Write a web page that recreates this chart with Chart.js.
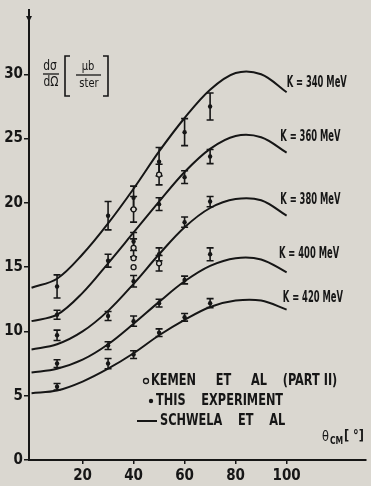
<!DOCTYPE html>
<html>
<head>
<meta charset="utf-8">
<script src="https://cdn.jsdelivr.net/npm/chart.js@4.4.1/dist/chart.umd.min.js"></script>
<style>
  html, body { margin: 0; padding: 0; background: #dad7d0; }
  #wrap { width: 371px; height: 486px; }
</style>
</head>
<body>
<div id="wrap"><canvas id="chart" width="371" height="486"></canvas></div>
<script>
// --- values ---
const energies = [340, 360, 380, 400, 420];
const theoryAngles = [0, 10, 20, 30, 40, 50, 60, 70, 80, 90, 100];
const theory340 = [13.4, 14.1, 16.0, 18.4, 21.1, 24.0, 26.6, 28.8, 30.1, 30.0, 28.6];
const theory360 = [10.8, 11.3, 13.0, 15.3, 17.7, 20.1, 22.4, 24.2, 25.2, 25.1, 23.9];
const theory380 = [8.6, 9.0, 10.0, 11.6, 13.7, 16.0, 18.1, 19.6, 20.3, 20.2, 19.0];
const theory400 = [6.8, 7.1, 7.8, 9.0, 10.6, 12.3, 13.9, 15.1, 15.7, 15.6, 14.6];
const theory420 = [5.2, 5.4, 6.1, 7.1, 8.3, 9.7, 10.9, 11.9, 12.4, 12.4, 11.7];

const expAngles = [10, 30, 40, 50, 60, 70];
const exp340 = [13.5, 19.0, 20.4, 23.2, 25.5, 27.5];
const err340 = [0.9, 1.1, 0.9, 1.1, 1.05, 1.05];
const exp360 = [11.3, 15.5, 17.0, 19.9, 22.0, 23.6];
const err360 = [0.35, 0.5, 0.7, 0.5, 0.5, 0.55];
const exp380 = [9.7, 11.2, 13.9, 16.0, 18.5, 20.1];
const err380 = [0.4, 0.35, 0.45, 0.5, 0.4, 0.4];
const exp400 = [7.5, 8.9, 10.8, 12.2, 14.0, 16.0];
const err400 = [0.3, 0.3, 0.4, 0.3, 0.3, 0.5];
const exp420 = [5.7, 7.5, 8.2, 9.9, 11.1, 12.2];
const err420 = [0.25, 0.4, 0.3, 0.3, 0.3, 0.35];

const kemenAngles = [40, 40, 40, 40, 50, 50];
const kemenValues = [19.5, 16.5, 15.7, 15.0, 22.2, 15.3];
const kemenErrors = [1.0, 0.7, 0, 0, 0.8, 0.6];

const xTicks = [20, 40, 60, 80, 100];
const yTicks = [0, 5, 10, 15, 20, 25, 30];

// --- look ---
const INK = '#161616';
const BG = '#dad7d0';
const FONT = "'Liberation Sans Narrow', 'DejaVu Sans Condensed', 'Arial Narrow', sans-serif";
// where the "K = ... MeV" labels sit, in axis units
const curveLabelAt = [[100, 29.3], [97.5, 25.1], [97.5, 20.2], [97, 16.0], [98.5, 12.6]];

const theory = [theory340, theory360, theory380, theory400, theory420];
const exps = [exp340, exp360, exp380, exp400, exp420];
const errs = [err340, err360, err380, err400, err420];

const pairs = (xs, ys) => xs.map((x, i) => ({ x, y: ys[i] }));

function narrowText(ctx, text, x, y, size, align = 'left', squeeze = 0.8, weight = 'bold') {
    ctx.save();
    ctx.font = `${weight} ${size}px ${FONT}`;
    ctx.fillStyle = INK;
    ctx.textBaseline = 'middle';
    ctx.textAlign = align;
    ctx.translate(x, y);
    ctx.scale(squeeze, 1);
    ctx.fillText(text, 0, 0);
    ctx.restore();
}

const errorBars = {
    id: 'errorBars',
    beforeDatasetsDraw(chart) {
        const { ctx, scales: { x, y } } = chart;
        ctx.save();
        ctx.strokeStyle = INK;
        ctx.lineWidth = 1.6;
        chart.data.datasets.forEach(ds => {
            if (!ds.errors) return;
            ds.data.forEach((p, i) => {
                const e = ds.errors[i];
                if (!e) return;
                const px = x.getPixelForValue(p.x);
                const top = y.getPixelForValue(p.y + e);
                const bot = y.getPixelForValue(p.y - e);
                ctx.beginPath();
                ctx.moveTo(px, top); ctx.lineTo(px, bot);
                ctx.moveTo(px - 3.5, top); ctx.lineTo(px + 3.5, top);
                ctx.moveTo(px - 3.5, bot); ctx.lineTo(px + 3.5, bot);
                ctx.stroke();
            });
        });
        ctx.restore();
    }
};

const annotations = {
    id: 'annotations',
    afterDraw(chart) {
        const { ctx, scales: { x, y }, chartArea } = chart;
        ctx.save();

        // arrow mark at the top of the y axis
        const ax = chartArea.left;
        ctx.fillStyle = INK;
        ctx.beginPath();
        ctx.moveTo(ax - 3, 16); ctx.lineTo(ax + 3, 16); ctx.lineTo(ax, 22);
        ctx.closePath(); ctx.fill();

        // curve labels
        energies.forEach((k, i) => {
            const [lx, ly] = curveLabelAt[i];
            narrowText(ctx, `K = ${k} MeV`, x.getPixelForValue(lx), y.getPixelForValue(ly), 15, 'left', 0.62);
        });

        // y axis title: dσ/dΩ [μb/ster]
        ctx.strokeStyle = INK;
        ctx.lineWidth = 1.3;
        narrowText(ctx, 'dσ', 50, 66, 14, 'center', 0.85, 'normal');
        narrowText(ctx, 'dΩ', 51, 82, 14, 'center', 0.85, 'normal');
        ctx.beginPath(); ctx.moveTo(43, 74); ctx.lineTo(59, 74); ctx.stroke();
        narrowText(ctx, 'μb', 88, 67, 13, 'center', 0.85, 'normal');
        narrowText(ctx, 'ster', 89, 84, 13, 'center', 0.85, 'normal');
        ctx.beginPath(); ctx.moveTo(76, 75); ctx.lineTo(101, 75); ctx.stroke();
        ctx.lineWidth = 1.6;
        ctx.beginPath();
        ctx.moveTo(70, 56); ctx.lineTo(65, 56); ctx.lineTo(65, 96); ctx.lineTo(70, 96);
        ctx.moveTo(103, 56); ctx.lineTo(108, 56); ctx.lineTo(108, 96); ctx.lineTo(103, 96);
        ctx.stroke();

        // legend
        ctx.lineWidth = 1.3;
        ctx.beginPath(); ctx.arc(146, 381, 2.5, 0, Math.PI * 2); ctx.stroke();
        narrowText(ctx, 'KEMEN     ET     AL    (PART II)', 151, 381, 15, 'left', 0.84);
        ctx.beginPath(); ctx.arc(151, 401, 2.2, 0, Math.PI * 2); ctx.fill();
        narrowText(ctx, 'THIS    EXPERIMENT', 156, 401, 15, 'left', 0.84);
        ctx.lineWidth = 2;
        ctx.beginPath(); ctx.moveTo(137, 421); ctx.lineTo(157, 421); ctx.stroke();
        narrowText(ctx, 'SCHWELA    ET    AL', 160, 421, 15, 'left', 0.84);

        // x axis title
        narrowText(ctx, 'θ', 322, 437, 14, 'left', 0.9, 'normal');
        narrowText(ctx, 'CM', 330, 441, 10, 'left', 0.85);
        narrowText(ctx, '[ °]', 344, 436, 14, 'left', 0.9);

        ctx.restore();
    }
};

const datasets = [];
energies.forEach((k, i) => {
    datasets.push({
        label: `this experiment ${k}`,
        data: pairs(expAngles, exps[i]),
        errors: errs[i],
        pointRadius: 2.2,
        pointBackgroundColor: INK,
        pointBorderColor: INK,
        pointBorderWidth: 0,
        showLine: false,
        order: 0
    });
});
datasets.push({
    label: 'Kemen et al',
    data: pairs(kemenAngles, kemenValues),
    errors: kemenErrors,
    pointRadius: 2.5,
    pointBackgroundColor: BG,
    pointBorderColor: INK,
    pointBorderWidth: 1.3,
    showLine: false,
    order: 0
});
energies.forEach((k, i) => {
    datasets.push({
        label: `Schwela ${k}`,
        data: pairs(theoryAngles, theory[i]),
        showLine: true,
        borderColor: INK,
        borderWidth: 2,
        pointRadius: 0,
        tension: 0.35,
        order: 1
    });
});

new Chart(document.getElementById('chart'), {
    type: 'scatter',
    data: { datasets },
    options: {
        responsive: false,
        animation: false,
        events: [],
        layout: { padding: { top: 10, right: 0, bottom: 0, left: 0 } },
        plugins: { legend: { display: false }, tooltip: { enabled: false } },
        scales: {
            x: {
                type: 'linear',
                min: -1,
                max: 131,
                afterBuildTicks: s => { s.ticks = xTicks.map(v => ({ value: v })); },
                afterFit: s => { s.height = 26; },
                border: { color: INK, width: 2 },
                grid: { drawOnChartArea: false, tickLength: 4, color: INK, lineWidth: 1.5 },
                ticks: { color: INK, font: { family: FONT, size: 15, weight: 'bold' }, padding: 3, maxRotation: 0 }
            },
            y: {
                min: 0,
                max: 35,
                afterBuildTicks: s => { s.ticks = yTicks.map(v => ({ value: v })); },
                afterFit: s => { s.width = 29; },
                border: { color: INK, width: 2 },
                grid: { drawOnChartArea: false, tickLength: 5, color: INK, lineWidth: 1.5 },
                ticks: { color: INK, font: { family: FONT, size: 15, weight: 'bold' }, padding: 1 }
            }
        }
    },
    plugins: [errorBars, annotations]
});
</script>
</body>
</html>
